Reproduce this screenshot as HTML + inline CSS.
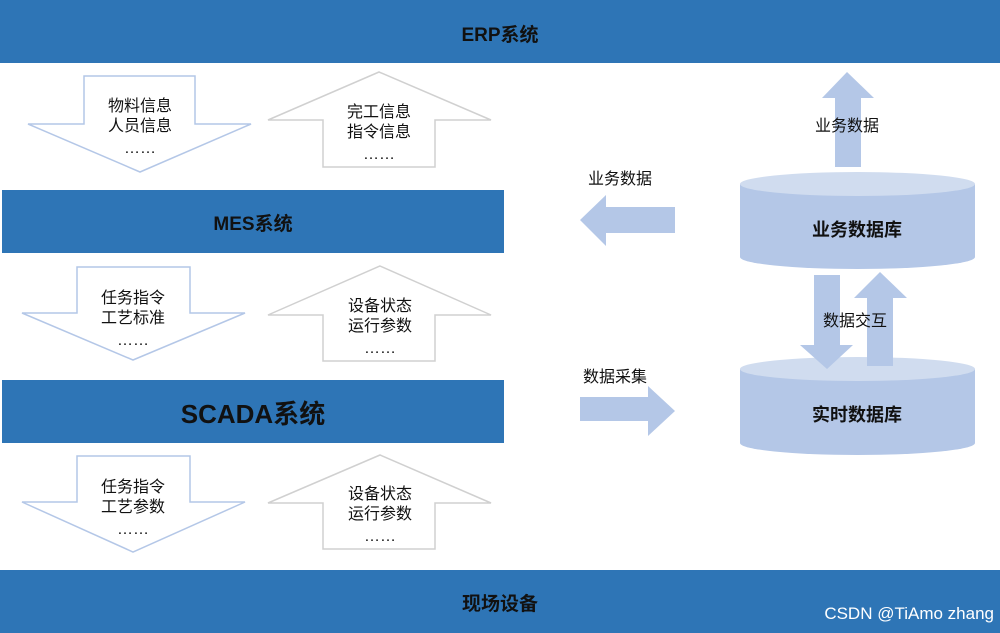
<!DOCTYPE html>
<html><head><meta charset="utf-8"><style>
html,body{margin:0;padding:0;background:#fff;}
svg{display:block;}
text{font-family:"Liberation Sans","Noto Sans CJK SC",sans-serif;fill:#111;}
</style></head><body>
<svg width="1000" height="633" viewBox="0 0 1000 633" xmlns="http://www.w3.org/2000/svg">
<rect x="0" y="0" width="1000" height="63" fill="#2E75B6"/>
<text x="500" y="41" font-size="19" font-weight="bold" text-anchor="middle">ERP系统</text>
<rect x="2" y="190" width="502" height="63" fill="#2E75B6"/>
<text x="253" y="230" font-size="19" font-weight="bold" text-anchor="middle">MES系统</text>
<rect x="2" y="380" width="502" height="63" fill="#2E75B6"/>
<text x="253" y="423" font-size="26" font-weight="bold" text-anchor="middle">SCADA系统</text>
<rect x="0" y="570" width="1000" height="63" fill="#2E75B6"/>
<text x="500" y="610" font-size="19" font-weight="bold" text-anchor="middle">现场设备</text>
<text x="994" y="619" font-size="17" text-anchor="end" style="fill:#fff">CSDN @TiAmo zhang</text>

<g fill="#fff" stroke-width="1.5">
<polygon points="84,76 195,76 195,124 251,124 140,172 28,124 84,124" stroke="#B4C7E7"/>
<polygon points="379,72 491,120 435,120 435,167 323,167 323,120 268,120" stroke="#D0D0D0"/>
<polygon points="77,267 190,267 190,313 245,313 133,360 22,313 77,313" stroke="#B4C7E7"/>
<polygon points="380,266 491,315 435,315 435,361 323,361 323,315 268,315" stroke="#D0D0D0"/>
<polygon points="77,456 190,456 190,502 245,502 133,552 22,502 77,502" stroke="#B4C7E7"/>
<polygon points="380,455 491,503 435,503 435,549 323,549 323,503 268,503" stroke="#D0D0D0"/>
</g>
<g font-size="16" text-anchor="middle">
<text x="140" y="111">物料信息</text><text x="140" y="131">人员信息</text><text x="140" y="153">……</text>
<text x="379" y="117">完工信息</text><text x="379" y="137">指令信息</text><text x="379" y="159">……</text>
<text x="133" y="303">任务指令</text><text x="133" y="323">工艺标准</text><text x="133" y="345">……</text>
<text x="380" y="311">设备状态</text><text x="380" y="331">运行参数</text><text x="380" y="353">……</text>
<text x="133" y="492">任务指令</text><text x="133" y="512">工艺参数</text><text x="133" y="534">……</text>
<text x="380" y="499">设备状态</text><text x="380" y="519">运行参数</text><text x="380" y="541">……</text>
</g>

<g fill="#B4C7E7">
<path d="M740,184 L740,257 A117.5,12 0 0 0 975,257 L975,184 Z"/>
<ellipse cx="857.5" cy="184" rx="117.5" ry="12" fill="#D0DCEF"/>
<path d="M740,369 L740,443 A117.5,12 0 0 0 975,443 L975,369 Z"/>
<ellipse cx="857.5" cy="369" rx="117.5" ry="12" fill="#D0DCEF"/>
<polygon points="847,72 874,98 861,98 861,167 835,167 835,98 822,98"/>
<polygon points="580,220 606,195 606,207 675,207 675,233 606,233 606,246"/>
<polygon points="675,411 648,436 648,421 580,421 580,397 648,397 648,386"/>
<polygon points="814,275 840,275 840,345 853,345 827,369 800,345 814,345"/>
<polygon points="880,272 907,298 893,298 893,366 867,366 867,298 854,298"/>
</g>
<g font-size="16" text-anchor="middle">
<text x="847" y="131">业务数据</text>
<text x="620" y="184">业务数据</text>
<text x="855" y="326">数据交互</text>
<text x="615" y="382">数据采集</text>
</g>
<g font-size="18" font-weight="bold" text-anchor="middle">
<text x="857" y="236">业务数据库</text>
<text x="857" y="421">实时数据库</text>
</g>
</svg>
</body></html>
